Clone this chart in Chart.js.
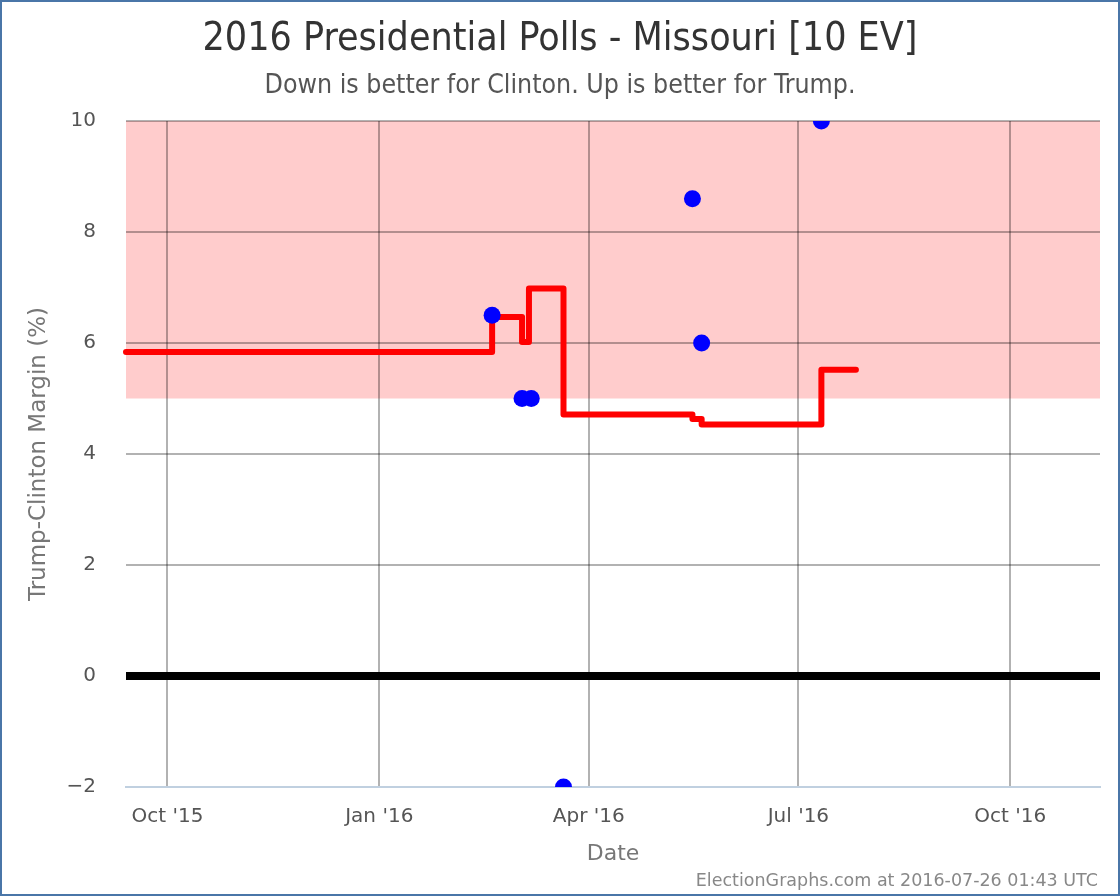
<!DOCTYPE html>
<html>
<head>
<meta charset="utf-8">
<script src="https://cdn.jsdelivr.net/npm/chart.js@4"></script>
<style>
  body { margin: 0; background: #fff; }
  #wrap { position: relative; width: 1120px; height: 896px; box-sizing: border-box; border: 2px solid #4a76a8; }
  #chart { display: block; }
  #credit { position: absolute; right: 20px; bottom: 4px; font: 17.5px "DejaVu Sans", sans-serif; color: #888; }
</style>
</head>
<body>
<div id="wrap">
  <canvas id="chart" width="1116" height="892"></canvas>
  <div id="credit">ElectionGraphs.com at 2016-07-26 01:43 UTC</div>
</div>
<script>
// poll results (Trump minus Clinton)
const pollDates = ["2016-02-19", "2016-03-03", "2016-03-07", "2016-03-21", "2016-05-16", "2016-05-20", "2016-07-11"];
const pollValues = [6.5, 5, 5, -2, 8.6, 6, 10];

// running average, value holds from each date until the next one
const avgDates = ["2015-09-13", "2016-02-19", "2016-03-03", "2016-03-06", "2016-03-21", "2016-05-16", "2016-05-20", "2016-07-11", "2016-07-26"];
const avgValues = [5.84, 6.47, 6.02, 6.98, 4.71, 4.63, 4.53, 5.52, 5.52];

// shaded "strong Trump" band
const bandLow = 5;
const bandHigh = 10;

const xTickDates = ["2015-10-01", "2016-01-01", "2016-04-01", "2016-07-01", "2016-10-01"];
const xTickLabels = ["Oct '15", "Jan '16", "Apr '16", "Jul '16", "Oct '16"];
const xMin = "2015-09-13";
const xMax = "2016-11-09";

const t = (d) => Date.parse(d + "T00:00:00Z");

const pollPoints = pollDates.map((d, i) => ({ x: t(d), y: pollValues[i] }));

const avgPoints = [];
avgDates.forEach((d, i) => {
  if (i > 0) avgPoints.push({ x: t(d), y: avgValues[i - 1] });
  avgPoints.push({ x: t(d), y: avgValues[i] });
});

const bandPlugin = {
  id: "band",
  beforeDraw(chart) {
    const { ctx, chartArea, scales } = chart;
    const top = scales.y.getPixelForValue(bandHigh);
    const bottom = scales.y.getPixelForValue(bandLow);
    ctx.save();
    ctx.fillStyle = "#ffcccc";
    ctx.fillRect(chartArea.left, top, chartArea.right - chartArea.left, bottom - top);
    ctx.restore();
  },
};

const ctx = document.getElementById("chart").getContext("2d");
const chart = new Chart(ctx, {
  type: "line",
  data: {
    datasets: [
      {
        label: "Polls",
        data: pollPoints,
        showLine: false,
        pointRadius: 8.5,
        pointHoverRadius: 8.5,
        pointBackgroundColor: "#0000ff",
        pointBorderWidth: 0,
        order: 0,
      },
      {
        label: "Average",
        data: avgPoints,
        borderColor: "#ff0000",
        borderWidth: 6,
        borderCapStyle: "round",
        borderJoinStyle: "round",
        pointRadius: 0,
        fill: false,
        tension: 0,
        clip: false,
        order: 1,
      },
    ],
  },
  plugins: [bandPlugin],
  options: {
    responsive: false,
    animation: false,
    layout: { padding: { left: 18, right: 18, top: 0, bottom: 25 } },
    plugins: {
      legend: { display: false },
      tooltip: { enabled: false },
      title: {
        display: true,
        text: "2016 Presidential Polls - Missouri [10 EV]",
        color: "#333",
        font: { family: "DejaVu Sans Condensed", size: 39, weight: "normal" },
        padding: { top: 14, bottom: 7 },
      },
      subtitle: {
        display: true,
        text: "Down is better for Clinton. Up is better for Trump.",
        color: "#555",
        font: { family: "DejaVu Sans Condensed", size: 26.5 },
        padding: { top: 0, bottom: 19.4 },
      },
    },
    scales: {
      x: {
        type: "linear",
        min: t(xMin),
        max: t(xMax),
        afterBuildTicks: (scale) => {
          scale.ticks = xTickDates.map((d) => ({ value: t(d) }));
        },
        afterFit: (scale) => {
          scale.height = 82;
        },
        ticks: {
          autoSkip: false,
          maxRotation: 0,
          padding: 18,
          color: "#555",
          font: { family: "DejaVu Sans", size: 20 },
          callback: (value, index) => xTickLabels[index],
        },
        grid: { color: "rgba(0,0,0,0.3)", lineWidth: 2, drawTicks: false },
        border: { display: true, color: "#c0d0e0", width: 2 },
        title: {
          display: true,
          text: "Date",
          color: "#777",
          font: { family: "DejaVu Sans", size: 22 },
          padding: { top: 0, bottom: 2 },
        },
      },
      y: {
        min: -2,
        max: 10,
        afterFit: (scale) => {
          scale.width = 106;
        },
        ticks: {
          stepSize: 2,
          padding: 30,
          color: "#555",
          font: { family: "DejaVu Sans", size: 20 },
          callback: (value) => String(value).replace("-", "\u2212"),
        },
        grid: {
          drawTicks: false,
          color: (c) => (c.tick && c.tick.value === 0 ? "#000" : "rgba(0,0,0,0.3)"),
          lineWidth: (c) => (c.tick && c.tick.value === 0 ? 8 : 2),
        },
        border: { display: false },
        title: {
          display: true,
          text: "Trump-Clinton Margin (%)",
          color: "#777",
          font: { family: "DejaVu Sans", size: 23 },
          padding: { top: 5, bottom: 0 },
        },
      },
    },
  },
});
</script>
</body>
</html>
